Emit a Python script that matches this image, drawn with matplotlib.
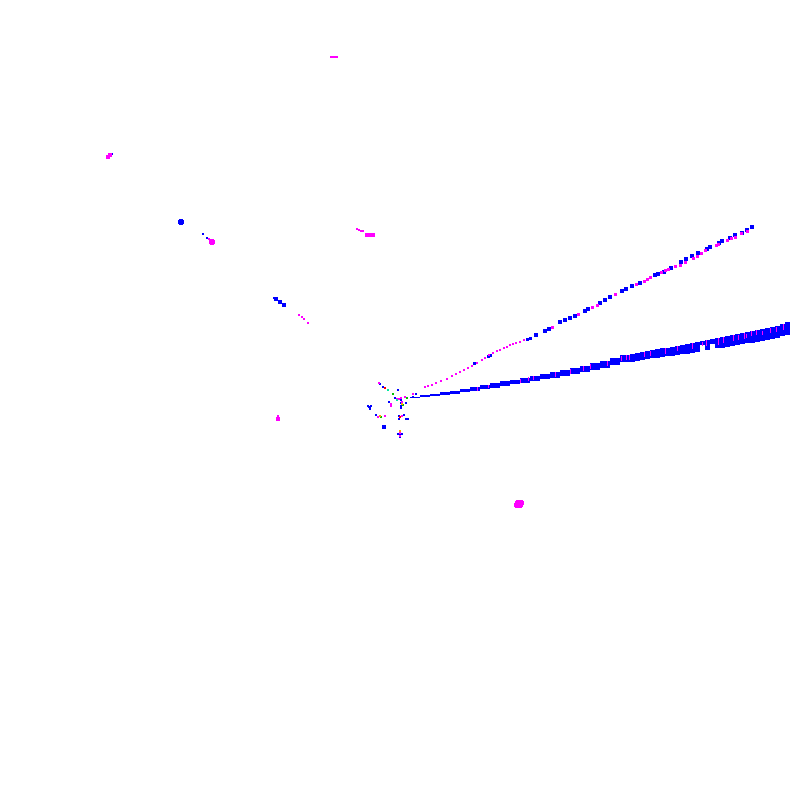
import matplotlib
matplotlib.use("Agg")
from matplotlib import pyplot as plt

# lower fan, blue blocks: x centre, top and bottom edge
fan_in_x = [415, 425, 435, 445, 455, 465, 475, 485, 495, 505, 515, 525, 535, 545, 555, 565, 575, 585, 595, 605, 615]
fan_in_top = [396.5, 395, 393.5, 392, 390.5, 388.5, 387, 385, 383, 381, 379.5, 377.5, 375.5, 373.5, 371.5, 369.5, 367.5, 365.5, 363, 360.5, 358]
fan_in_bot = [398, 397, 396, 395, 393.5, 392, 390.5, 389, 387.5, 385.5, 384, 382.5, 380.5, 379, 377.5, 376, 374, 372, 370, 367.5, 365]
fan_out_x = [622.5, 627.5, 632.5, 637.5, 642.5, 647.5, 652.5, 657.5, 662.5, 667.5, 672.5, 677.5, 682.5, 687.5, 692.5, 697.5, 702.5,
             707.5, 712.5, 717.5, 722.5, 727.5, 732.5, 737.5, 742.5, 747.5, 752.5, 757.5, 762.5, 767.5, 772.5, 777.5, 782.5, 787.5]
fan_out_top = [355, 354.5, 354, 353, 352, 351, 350, 349, 348, 347.5, 347, 346, 345, 344, 343, 342, 341,
               340, 339, 338, 337, 336, 335, 334, 333, 332, 331, 330, 329, 328, 327, 326, 324, 322]
fan_out_bot = [362, 362, 361.5, 361, 360, 359, 358, 357.5, 357, 356, 355.5, 355, 354, 353.5, 353, 352, 345,
               350, 344, 348, 347.5, 347, 346, 345, 344, 343, 342.5, 341.5, 340.5, 339.5, 338.5, 337.5, 336, 334.5]

# magenta stripes over the lower fan
stripe_x = [477, 488, 520, 528, 533, 555, 570, 583, 590, 607, 621, 626, 629, 644, 650, 665, 677, 692, 702, 706,
            718, 723, 733, 738, 744, 746, 751, 756, 762, 770, 776, 783]
stripe_top = [387, 385, 379, 377, 376, 372, 369, 366, 364, 361, 356, 355, 355, 352, 351, 348, 346, 343, 342, 340,
              338, 337, 335, 335, 333, 334, 331, 330, 331, 328, 327, 324]
stripe_bot = [390, 387, 382, 380, 379, 376, 373, 370, 368, 365, 360, 359, 359, 356, 355, 353, 350, 348, 345, 345,
              344, 342, 340, 339, 338, 337, 335, 334, 334, 332, 331, 329]

# upper ray, thin inner part
inner_mag_x = [425, 428, 432, 436, 441, 447, 452, 456, 460, 464, 468, 472, 477, 482, 485, 489, 493, 497, 500, 504, 507, 510, 513, 516, 520, 524]
inner_mag_y = [387, 386, 385, 383, 381, 379, 376, 374, 372, 370, 368, 366, 363, 360, 358, 355, 353, 351, 350, 348, 347, 345, 344, 343, 342, 340]
inner_blue_x = [474, 488, 490, 527, 530]
inner_blue_y = [363, 356, 355, 339, 338]

# upper ray, thick outer part
outer_blue_x = [536, 545, 549, 560, 565, 570, 575, 585, 588, 600, 605, 610, 622, 626, 632, 640, 655, 658, 664, 671, 681, 686,
                692, 698, 707, 710, 719, 722, 730, 735, 742, 747, 752]
outer_blue_y = [335, 331, 329, 322, 320, 318, 316, 311, 309, 303, 300, 297, 291, 289, 286, 283, 275, 274, 272, 268, 262, 259,
                256, 253, 249, 247, 243, 241, 238, 235, 233, 230, 227]
outer_mag_x = [552, 578, 592, 597, 615, 636, 644, 647, 650, 661, 665, 668, 675, 680, 685, 693, 697, 701, 705, 716, 718, 727, 731, 735, 741, 747]
outer_mag_y = [327, 314, 307, 305, 294, 284, 281, 279, 277, 272, 270, 269, 266, 265, 262, 258, 256, 253, 250, 245, 244, 240, 238, 237, 233, 231]

# little cluster round the middle
mid_blue_x = [380, 383, 398, 395, 416, 413, 401, 401, 401, 401, 406, 389, 369, 370, 368, 371, 370, 376, 399, 399, 404,
              406, 408, 398, 400, 402, 400]
mid_blue_y = [384, 386.5, 390, 398, 394, 397, 400, 403, 406, 408, 403, 402, 407, 408, 406, 406, 409, 415, 416, 419, 415,
              419, 419, 434, 434, 434, 437]
mid_mag_x = [379, 399, 397, 401, 405, 407, 413, 402, 391, 391, 378, 385, 402, 400, 400]
mid_mag_y = [383, 399, 399, 398, 397, 398, 394, 402, 404, 406, 417, 416, 416, 433, 436]
mid_green_x = [393, 407, 403, 381]
mid_green_y = [394, 398, 405, 417]
mid_cyan_x = [388, 397]
mid_cyan_y = [390, 400]
mid_red_x = [385, 400]
mid_red_y = [388, 417]
mid_orange_x = [402, 380, 400]
mid_orange_y = [404, 416, 431]

# isolated clumps
clump_blue_x = [181, 203, 207, 274, 276, 280, 284, 384, 112]
clump_blue_y = [222, 234, 238, 298, 299, 302, 305, 427, 154]
clump_blue_px = [5, 2, 2, 2, 3, 4, 4, 3, 2]
clump_mag_x = [331, 333, 335, 337, 108, 110, 209, 212, 357, 359, 361, 363, 367, 369, 371, 373, 299, 302, 304, 308, 278, 278, 519, 517, 521]
clump_mag_y = [57, 57, 57, 57, 157, 155, 239, 242, 229, 230, 231, 231, 235, 235, 235, 235, 315, 317, 319, 323, 419, 416, 504, 505, 503]
clump_mag_px = [2, 2, 2, 2, 3, 3, 2, 5, 2, 2, 2, 2, 3, 3, 3, 3, 2, 2, 2, 2, 4, 2, 8, 5, 5]


def size(px):
    # marker area in points for a square px pixels wide at dpi 100
    return (px * 0.72) ** 2


fig = plt.figure(figsize=(8, 8), dpi=100)
ax = fig.add_axes([0, 0, 1, 1])
ax.set_xlim(0, 800)
ax.set_ylim(800, 0)
ax.axis("off")

ax.bar(fan_in_x, [b - t for t, b in zip(fan_in_top, fan_in_bot)], bottom=fan_in_top, width=10,
       color="#0000ff", linewidth=0, antialiased=False)
ax.bar(fan_out_x, [b - t for t, b in zip(fan_out_top, fan_out_bot)], bottom=fan_out_top, width=5,
       color="#0000ff", linewidth=0, antialiased=False)
ax.vlines(stripe_x, stripe_top, stripe_bot, color="#ff00ff", linewidth=0.72, antialiased=False)

ax.scatter(inner_blue_x, inner_blue_y, s=size(3), c="#0000ff", marker="s", linewidths=0, antialiased=False)
ax.scatter(inner_mag_x, inner_mag_y, s=size(2.5), c="#ff00ff", marker="s", linewidths=0, antialiased=False)
ax.scatter(outer_blue_x, outer_blue_y, s=size(4), c="#0000ff", marker="s", linewidths=0, antialiased=False)
ax.scatter(outer_mag_x, outer_mag_y, s=size(3), c="#ff00ff", marker="s", linewidths=0, antialiased=False)

ax.scatter(mid_blue_x, mid_blue_y, s=size(2), c="#0000ff", marker="s", linewidths=0, antialiased=False)
ax.scatter(mid_mag_x, mid_mag_y, s=size(2), c="#ff00ff", marker="s", linewidths=0, antialiased=False)
ax.scatter(mid_green_x, mid_green_y, s=size(2), c="#00c000", marker="s", linewidths=0, antialiased=False)
ax.scatter(mid_cyan_x, mid_cyan_y, s=size(2), c="#00e8a0", marker="s", linewidths=0, antialiased=False)
ax.scatter(mid_red_x, mid_red_y, s=size(2), c="#ff0000", marker="s", linewidths=0, antialiased=False)
ax.scatter(mid_orange_x, mid_orange_y, s=size(2), c="#ffa000", marker="s", linewidths=0, antialiased=False)

ax.scatter(clump_blue_x, clump_blue_y, s=[size(p) for p in clump_blue_px], c="#0000ff", marker="o", linewidths=0, antialiased=False)
ax.scatter(clump_mag_x, clump_mag_y, s=[size(p) for p in clump_mag_px], c="#ff00ff", marker="o", linewidths=0, antialiased=False)

fig.savefig("out.png", dpi=100, facecolor="white")
